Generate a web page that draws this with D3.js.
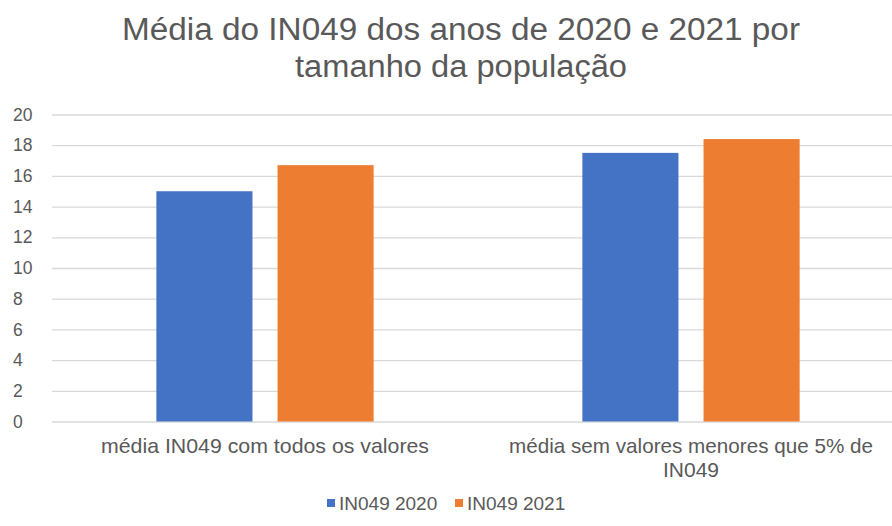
<!DOCTYPE html>
<html>
<head>
<meta charset="utf-8">
<script src="https://cdn.jsdelivr.net/npm/d3@7"></script>
<style>
  body { margin: 0; background: #fff; }
  svg { display: block; font-family: "Liberation Sans", Arial, sans-serif; }
</style>
</head>
<body>
<svg id="chart" width="892" height="526"></svg>
<script>
// Chart data
const categories = [
  ["média IN049 com todos os valores"],
  ["média sem valores menores que 5% de", "IN049"]
];
const seriesNames = ["IN049 2020", "IN049 2021"];
const values2020 = [15.0, 17.5];
const values2021 = [16.7, 18.4];
const yTicks = [0, 2, 4, 6, 8, 10, 12, 14, 16, 18, 20];
const titleLines = ["Média do IN049 dos anos de 2020 e 2021 por", "tamanho da população"];
const colors = ["#4472C4", "#ED7D31"];

const svg = d3.select("#chart");
const textColor = "#595959";

const plot = { left: 52, right: 904, top: 114.5, bottom: 421.5 };
const catKeys = categories.map((c, i) => i);

const y = d3.scaleLinear().domain([0, 20]).range([plot.bottom, plot.top]);
const x0 = d3.scaleBand().domain(catKeys).range([plot.left, plot.right])
  .paddingInner(0.49).paddingOuter(0.245);
const x1 = d3.scaleBand().domain(seriesNames).range([0, x0.bandwidth()])
  .paddingInner(0.207).paddingOuter(0);

// Title
svg.append("g").selectAll("text").data(titleLines).join("text")
  .attr("x", 461)
  .attr("y", (d, i) => 39.5 + i * 37)
  .attr("text-anchor", "middle")
  .attr("font-size", 31)
  .attr("fill", textColor)
  .attr("textLength", (d, i) => i === 0 ? 678 : 332)
  .attr("lengthAdjust", "spacingAndGlyphs")
  .text(d => d);

// Gridlines and y tick labels
const yAxis = d3.axisLeft(y).tickValues(yTicks).tickSize(-(plot.right - plot.left)).tickPadding(20);
const gy = svg.append("g").attr("transform", `translate(${plot.left},0)`).call(yAxis);
gy.select(".domain").remove();
gy.selectAll(".tick line").attr("stroke", "#d9d9d9").attr("stroke-width", 1.3);
gy.selectAll(".tick text")
  .attr("fill", textColor)
  .attr("font-size", 17.5)
  .attr("text-anchor", "start")
  .attr("x", -39);

// Bars
const data = catKeys.map(i => ({ cat: i, vals: [values2020[i], values2021[i]] }));
const groups = svg.append("g").selectAll("g").data(data).join("g")
  .attr("transform", d => `translate(${x0(d.cat)},0)`);
groups.selectAll("rect")
  .data(d => d.vals.map((v, j) => ({ name: seriesNames[j], v, j })))
  .join("rect")
  .attr("x", d => x1(d.name))
  .attr("width", x1.bandwidth())
  .attr("y", d => y(d.v))
  .attr("height", d => y(0) - y(d.v))
  .attr("fill", d => colors[d.j]);

// Category labels (first line of each fitted to its measured width)
const catWidths = [328, 364];
const catG = svg.append("g");
categories.forEach((lines, i) => {
  const cx = x0(i) + x0.bandwidth() / 2;
  lines.forEach((line, k) => {
    const t = catG.append("text")
      .attr("x", cx)
      .attr("y", 453 + k * 24)
      .attr("text-anchor", "middle")
      .attr("font-size", 21)
      .attr("fill", textColor)
      .text(line);
    if (k === 0) t.attr("textLength", catWidths[i]).attr("lengthAdjust", "spacingAndGlyphs");
  });
});

// Legend
const legend = svg.append("g");
const legendX = [327, 455];
seriesNames.forEach((name, i) => {
  legend.append("rect")
    .attr("x", legendX[i]).attr("y", 499)
    .attr("width", 8).attr("height", 8)
    .attr("fill", colors[i]);
  legend.append("text")
    .attr("x", legendX[i] + 12).attr("y", 510)
    .attr("font-size", 19)
    .attr("fill", textColor)
    .text(name);
});
</script>
</body>
</html>
